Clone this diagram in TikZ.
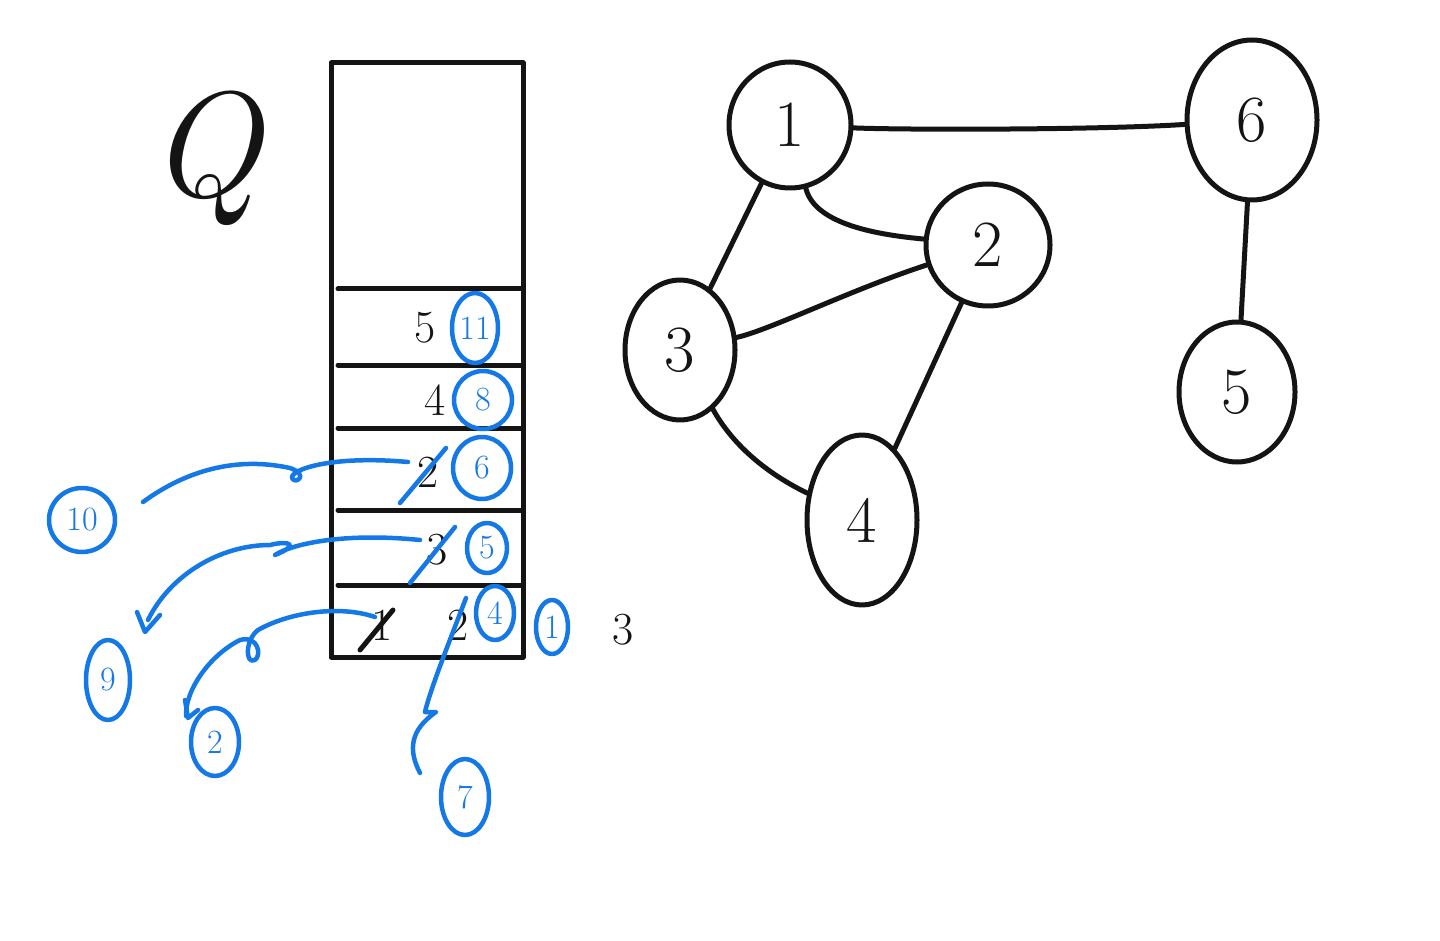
\documentclass[tikz,border=0pt]{standalone}
\usetikzlibrary{shapes.geometric}
\definecolor{pen}{RGB}{20,20,20}
\definecolor{bluepen}{RGB}{20,120,230}
\begin{document}
\begin{tikzpicture}[x=1pt,y=-1pt,line cap=round,line join=round,
  ink/.style={draw=pen,line width=5pt},
  bink/.style={draw=bluepen,line width=4.5pt},
  gnode/.style={ellipse,draw=pen,line width=5pt,inner sep=0pt,font=\fontsize{66}{66}\selectfont,text=pen},
  qtext/.style={font=\fontsize{46}{46}\selectfont,text=pen,inner sep=0pt},
  bcirc/.style={ellipse,draw=bluepen,line width=4.5pt,inner sep=0pt,font=\fontsize{34}{34}\selectfont,text=bluepen}]
\useasboundingbox (0,0) rectangle (1440,941);
\fill[white] (0,0) rectangle (1440,941);
% Q label
\node[text=pen,inner sep=0pt,font=\fontsize{150}{150}\selectfont\itshape] (Q) at (205,158) {Q};
% queue box
\draw[ink] (331,63) rectangle (523,657);
\foreach \y in {289,365,428,510,585} \draw[ink] (338,\y) -- (523,\y);
% cell contents
\node[qtext] (c5) at (425,328) {5};
\node[qtext] (c4) at (435,400) {4};
\node[qtext] (c2) at (428,472) {2};
\node[qtext] (c3) at (437,550) {3};
\node[qtext] (c1) at (382,625) {1};
\node[qtext] (c2b) at (458,625) {2};
\draw[ink] (360,650) -- (393,610);
% blue circled numbers
\node[bcirc,minimum width=46pt,minimum height=70pt] (b11) at (475,328) {11};
\node[bcirc,minimum width=58pt,minimum height=58pt] (b8) at (483,400) {8};
\node[bcirc,minimum width=58pt,minimum height=62pt] (b6) at (482,468) {6};
\node[bcirc,minimum width=40pt,minimum height=50pt] (b5) at (487,548) {5};
\node[bcirc,minimum width=38pt,minimum height=54pt] (b4) at (495,613) {4};
\node[bcirc,minimum width=32pt,minimum height=54pt] (b1) at (552,627) {1};
\node[qtext] (t3) at (623,630) {3};
\node[bcirc,minimum width=66pt,minimum height=64pt] (b10) at (82,520) {10};
\node[bcirc,minimum width=44pt,minimum height=80pt] (b9) at (108,680) {9};
\node[bcirc,minimum width=48pt,minimum height=68pt] (b2) at (215,742) {2};
\node[bcirc,minimum width=48pt,minimum height=76pt] (b7) at (465,797) {7};
% blue strike lines
\draw[bink] (400,503) -- (446,448);
\draw[bink] (410,583) -- (455,527);
% blue arrows
\coordinate (a10s) at (408,462);
\coordinate (a10e) at (143,502);
\draw[bink] (a10s) .. controls (330,455) and (290,470) .. (292,478) .. controls (295,485) and (310,475) .. (290,468) .. controls (230,455) and (180,475) .. (a10e);
\coordinate (a9s) at (420,540);
\coordinate (a9e) at (148,620);
\draw[bink] (a9s) .. controls (340,532) and (290,545) .. (275,555) .. controls (300,545) and (290,540) .. (270,545) .. controls (220,545) and (170,575) .. (a9e);
\draw[bink] (137,612) -- (145,632) -- (160,615);
\coordinate (a2s) at (375,617);
\coordinate (a2e) at (186,716);
\draw[bink] (a2s) .. controls (340,605) and (290,612) .. (258,630) .. controls (245,640) and (245,665) .. (255,660) .. controls (262,655) and (258,635) .. (240,640) .. controls (210,655) and (185,690) .. (a2e);
\draw[bink] (185,700) -- (188,718) -- (198,710);
\coordinate (a7s) at (466,598);
\coordinate (a7e) at (420,773);
\draw[bink] (a7s) .. controls (450,640) and (430,690) .. (425,712) -- (436,712) .. controls (410,730) and (408,750) .. (a7e);
% graph nodes
\node[gnode,minimum width=122pt,minimum height=126pt] (n1) at (790,125) {1};
\node[gnode,minimum width=130pt,minimum height=160pt] (n6) at (1252,120) {6};
\node[gnode,minimum width=124pt,minimum height=122pt] (n2) at (988,245) {2};
\node[gnode,minimum width=110pt,minimum height=140pt] (n3) at (680,350) {3};
\node[gnode,minimum width=110pt,minimum height=170pt] (n4) at (862,520) {4};
\node[gnode,minimum width=116pt,minimum height=140pt] (n5) at (1237,392) {5};
% graph edges
\draw[ink] (n1) .. controls (900,130) and (1100,130) .. (n6);
\draw[ink] (n1) -- (n3);
\draw[ink] (n1) .. controls (815,225) and (880,235) .. (n2);
\draw[ink] (n3) .. controls (770,330) and (850,290) .. (n2);
\draw[ink] (n2) -- (n4);
\draw[ink] (n3) .. controls (730,440) and (760,470) .. (n4);
\draw[ink] (n6) -- (n5);
\end{tikzpicture}
\end{document}
